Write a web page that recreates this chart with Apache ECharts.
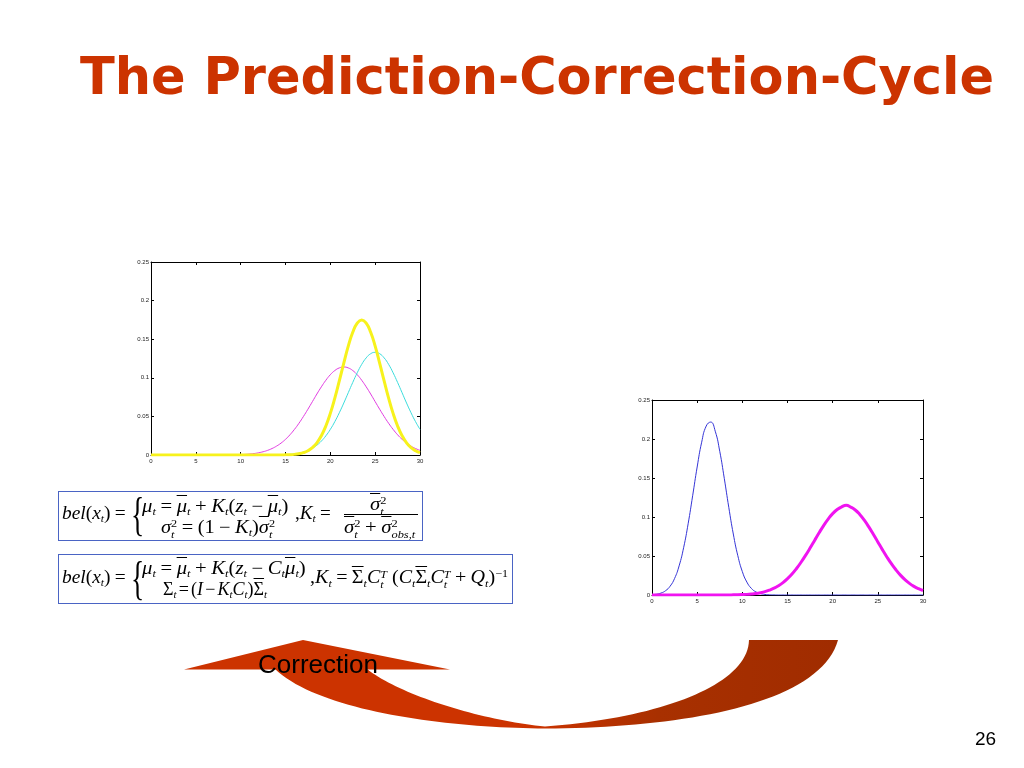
<!DOCTYPE html>
<html><head><meta charset="utf-8">
<script src="https://cdn.jsdelivr.net/npm/echarts@6/dist/echarts.min.js"></script>
<style>
html,body{margin:0;padding:0;background:#fff;width:1024px;height:768px;overflow:hidden;}
#chart{position:absolute;left:0;top:0;width:1024px;height:768px;}
.box{position:absolute;border:1.5px solid #4a64c4;box-sizing:border-box;}
.f{position:absolute;font-family:'Liberation Serif','DejaVu Serif',serif;font-size:18px;white-space:nowrap;line-height:1;color:#000;transform-origin:left center;}
.i{font-style:italic;}
.o{padding:0 0.22em;}
.os{padding:0 0.12em;}
.sb{font-size:0.6em;vertical-align:-0.3em;font-style:italic;}
.sp{font-size:0.6em;vertical-align:0.6em;}
.ss{display:inline-flex;flex-direction:column;font-size:0.6em;line-height:1;vertical-align:middle;}
.ss .t{font-style:italic;}
.ov{text-decoration:overline;}
.br{position:absolute;font-family:'Liberation Serif',serif;font-size:46px;line-height:1;transform:scaleX(0.6);transform-origin:left center;}
.hl{position:absolute;height:1px;background:#000;}
</style>
</head>
<body>
<div id="chart"></div>

<div class="box" style="left:58px;top:491px;width:365px;height:50px;"></div>
<div class="box" style="left:58px;top:554px;width:455px;height:50px;"></div>

<div class="f" data-w="68" style="left:62px;top:504px;"><span class="i">bel</span>(<span class="i">x</span><span class="sb">t</span>)<span class="o">=</span></div>
<div class="br" style="left:131px;top:492px;">{</div>
<div class="f" data-w="150" style="left:142px;top:497px;"><span class="i">μ</span><span class="sb">t</span><span class="o">=</span><span class="i ov">μ</span><span class="sb">t</span><span class="o">+</span><span class="i">K</span><span class="sb">t</span>(<span class="i">z</span><span class="sb">t</span><span class="o">−</span><span class="i ov">μ</span><span class="sb">t</span>)</div>
<div class="f" data-w="114" style="left:161px;top:518px;"><span class="i">σ</span><span class="ss"><span>2</span><span class="t">t</span></span><span class="o">=</span>(1<span class="o">−</span><span class="i">K</span><span class="sb">t</span>)<span class="i ov">σ</span><span class="ss"><span>2</span><span class="t">t</span></span></div>
<div class="f" data-w="40" style="left:295px;top:504px;">,<span class="i">K</span><span class="sb">t</span><span class="o">=</span></div>
<div class="f" data-w="20" style="left:370px;top:495px;"><span class="i ov">σ</span><span class="ss"><span>2</span><span class="t">t</span></span></div>
<div class="hl" style="left:344px;top:514px;width:74px;"></div>
<div class="f" data-w="75" style="left:344px;top:518px;"><span class="i ov">σ</span><span class="ss"><span>2</span><span class="t">t</span></span><span class="o">+</span><span class="i ov">σ</span><span class="ss"><span>2</span><span class="t">obs,t</span></span></div>

<div class="f" data-w="68" style="left:62px;top:568px;"><span class="i">bel</span>(<span class="i">x</span><span class="sb">t</span>)<span class="o">=</span></div>
<div class="br" style="left:131px;top:556px;">{</div>
<div class="f" data-w="166" style="left:142px;top:559px;"><span class="i">μ</span><span class="sb">t</span><span class="o">=</span><span class="i ov">μ</span><span class="sb">t</span><span class="o">+</span><span class="i">K</span><span class="sb">t</span>(<span class="i">z</span><span class="sb">t</span><span class="o">−</span><span class="i">C</span><span class="sb">t</span><span class="i ov">μ</span><span class="sb">t</span>)</div>
<div class="f" data-w="104" style="left:163px;top:580px;">Σ<span class="sb">t</span><span class="os">=</span>(<span class="i">I</span><span class="os">−</span><span class="i">K</span><span class="sb">t</span><span class="i">C</span><span class="sb">t</span>)<span class="ov">Σ</span><span class="sb">t</span></div>
<div class="f" data-w="198" style="left:310px;top:568px;">,<span class="i">K</span><span class="sb">t</span><span class="o">=</span><span class="ov">Σ</span><span class="sb">t</span><span class="i">C</span><span class="ss"><span class="t">T</span><span class="t">t</span></span> (<span class="i">C</span><span class="sb">t</span><span class="ov">Σ</span><span class="sb">t</span><span class="i">C</span><span class="ss"><span class="t">T</span><span class="t">t</span></span><span class="o">+</span><span class="i">Q</span><span class="sb">t</span>)<span class="sp">−1</span></div>

<script>
const xValues = [0,0.5,1,1.5,2,2.5,3,3.5,4,4.5,5,5.5,6,6.5,7,7.5,8,8.5,9,9.5,10,10.5,11,11.5,12,12.5,13,13.5,14,14.5,15,15.5,16,16.5,17,17.5,18,18.5,19,19.5,20,20.5,21,21.5,22,22.5,23,23.5,24,24.5,25,25.5,26,26.5,27,27.5,28,28.5,29,29.5,30];

// Left chart
const predictedBelief = [0,0,0,0,0,0,0,0,0,0,0,0,0,0,0,0,0,0,0.0002,0.0003,
  0.0005,0.0008,0.0013,0.0019,0.0029,0.0042,0.0060,0.0084,0.0115,0.0154,0.0203,0.0262,0.0332,0.0411,0.0499,0.0593,0.0691,0.0790,0.0883,0.0968,
  0.1040,0.1094,0.1128,0.1140,0.1128,0.1094,0.1040,0.0968,0.0883,0.0790,0.0691,0.0593,0.0499,0.0411,0.0332,0.0262,0.0203,0.0154,0.0115,0.0084,0.0060];
const measurement = [0,0,0,0,0,0,0,0,0,0,0,0,0,0,0,0,0,0,0,0,0,0,0,0,0,0,
  0,0.0001,0.0002,0.0003,0.0005,0.0009,0.0015,0.0024,0.0038,0.0058,0.0087,0.0127,0.0180,0.0248,0.0332,0.0432,0.0547,0.0673,0.0807,0.0940,0.1065,0.1174,0.1258,0.1312,
  0.1330,0.1312,0.1258,0.1174,0.1065,0.0940,0.0807,0.0673,0.0547,0.0432,0.0332];
const correctedBelief = [0,0,0,0,0,0,0,0,0,0,0,0,0,0,0,0,0,0,0,0,0,0,0,0,0,0,0,0,0,0,
  0.0002,0.0004,0.0008,0.0016,0.0030,0.0055,0.0095,0.0158,0.0250,0.0376,0.0539,0.0737,0.0960,0.1191,0.1410,0.1590,0.1708,0.1750,
  0.1708,0.1590,0.1410,0.1191,0.0960,0.0737,0.0539,0.0376,0.0250,0.0158,0.0095,0.0055,0.0030];

// Right chart
const priorBelief = [0.0004,0.0010,0.0025,0.0055,0.0112,0.0212,0.0373,0.0606,0.0913,0.1272,0.1641,0.1959,0.2166,0.2217,0.2100,0.1842,0.1496,0.1124,0.0782,0.0504,
  0.0300,0.0166,0.0085,0.0040,0.0018,0.0007,0.0003,0.0001,
  0,0,0,0,0,0,0,0,0,0,0,0,0,0,0,0,0,0,0,0,0,0,0,0,0,0,0,0,0,0,0,0,0];
const predictionBelief = [0,0,0,0,0,0,0,0,0,0,0,0,0,0,0,0,0,0,0.0002,0.0003,
  0.0005,0.0008,0.0013,0.0020,0.0030,0.0043,0.0062,0.0087,0.0119,0.0159,0.0209,0.0269,0.0340,0.0420,0.0508,0.0602,0.0700,0.0798,0.0890,0.0973,
  0.1043,0.1096,0.1131,0.1150,0.1127,0.1090,0.1033,0.0959,0.0873,0.0778,0.0680,0.0582,0.0488,0.0401,0.0323,0.0255,0.0197,0.0149,0.0111,0.0081,0.0058];

const titleText = 'The Prediction-Correction-Cycle';
const arrowLabel = 'Correction';
const pageNumber = '26';

// fit formula pieces to their measured widths (mild, clamped)
document.querySelectorAll('.f[data-w]').forEach(el => {
  const w = el.getBoundingClientRect().width;
  const t = +el.dataset.w;
  if (w > 0) {
    const s = Math.max(0.88, Math.min(1.15, t / w));
    el.style.transform = 'scaleX(' + s.toFixed(3) + ')';
  }
});

function pairs(ys){ return xValues.map((x,i)=>[x, ys[i]]); }

function xAx(g, pos, labels){
  return {type:'value', gridIndex:g, position:pos, min:0, max:30, interval:5,
    axisLine:{show:true, onZero:false, lineStyle:{color:'#000', width:1}},
    axisTick:{show:true, inside:true, length:3, lineStyle:{color:'#000', width:1}},
    axisLabel:{show:labels, fontSize:6, color:'#222', margin:3, fontFamily:'Liberation Sans'},
    splitLine:{show:false}};
}
function yAx(g, pos, labels){
  return {type:'value', gridIndex:g, position:pos, min:0, max:0.25, interval:0.05,
    axisLine:{show:true, onZero:false, lineStyle:{color:'#000', width:1}},
    axisTick:{show:true, inside:true, length:3, lineStyle:{color:'#000', width:1}},
    axisLabel:{show:labels, fontSize:6, color:'#222', margin:2, fontFamily:'Liberation Sans'},
    splitLine:{show:false}};
}
function line(name, xi, yi, data, color, width){
  return {name, type:'line', xAxisIndex:xi, yAxisIndex:yi, data:pairs(data), showSymbol:false, smooth:true,
    lineStyle:{color, width}, itemStyle:{color}, silent:true};
}

// arrow outline (decorative shape)
function bez(p0,p1,p2,p3,n){
  const pts=[];
  for(let k=0;k<=n;k++){
    const t=k/n, u=1-t;
    pts.push([u*u*u*p0[0]+3*u*u*t*p1[0]+3*u*t*t*p2[0]+t*t*t*p3[0],
              u*u*u*p0[1]+3*u*u*t*p1[1]+3*u*t*t*p2[1]+t*t*t*p3[1]]);
  }
  return pts;
}
const arrowBody = [].concat(
  bez([275,669],[320,712],[450,728],[545,728.5],40),
  bez([545,728.5],[680,728],[820,705],[838,640],40),
  bez([749,640],[748,685],[660,718],[545,726.5],40),
  bez([545,726.5],[480,720],[400,695],[367,669],40)
);

const chart = echarts.init(document.getElementById('chart'), null, {renderer:'canvas'});
chart.setOption({
  animation:false,
  backgroundColor:'#fff',
  grid:[
    {left:151, top:262, width:269, height:193},
    {left:652, top:400, width:271, height:195}
  ],
  xAxis:[xAx(0,'bottom',true), xAx(0,'top',false), xAx(1,'bottom',true), xAx(1,'top',false)],
  yAxis:[yAx(0,'left',true), yAx(0,'right',false), yAx(1,'left',true), yAx(1,'right',false)],
  series:[
    line('Prediction', 0, 0, predictedBelief, '#e03ce0', 1),
    line('Measurement', 0, 0, measurement, '#3cdcdc', 1),
    line('Correction', 0, 0, correctedBelief, '#f7f21c', 3),
    line('Belief', 2, 2, priorBelief, '#3434d6', 1),
    line('Prediction', 2, 2, predictionBelief, '#f014f0', 3)
  ],
  graphic:[
    {type:'text', x:80, y:81, style:{text:titleText, fill:'#cc3300', font:'bold 51px "DejaVu Sans", Verdana, sans-serif', verticalAlign:'middle'}},
    {type:'polygon', shape:{points:arrowBody},
      style:{fill:{type:'linear', x:0, y:0, x2:1, y2:0, colorStops:[
        {offset:0, color:'#cc3300'},{offset:0.45, color:'#cc3300'},{offset:0.68, color:'#a83000'},{offset:1, color:'#a02c00'}]}}},
    {type:'polygon', shape:{points:[[303,640],[450,669.5],[184,669.5]]}, style:{fill:'#cc3300'}},
    {type:'text', x:258, y:666, style:{text:arrowLabel, fill:'#000', font:'26px "Liberation Sans", Arial, sans-serif', verticalAlign:'middle'}},
    {type:'text', x:975, y:740, style:{text:pageNumber, fill:'#000', font:'19px "Liberation Sans", Arial, sans-serif', verticalAlign:'middle'}}
  ]
});
</script>
</body></html>
